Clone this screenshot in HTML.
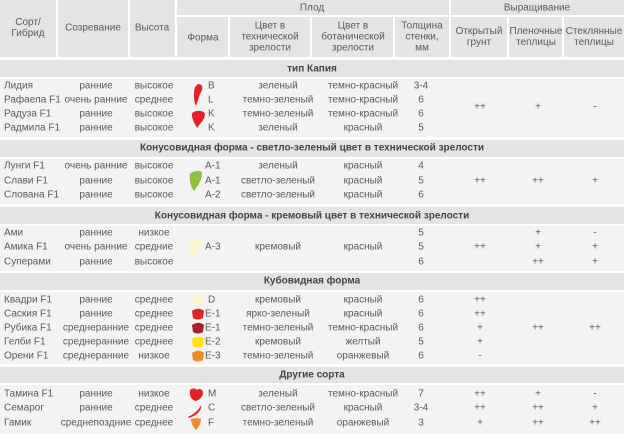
<!DOCTYPE html>
<html><head><meta charset="utf-8"><style>
body{margin:0;width:624px;height:434px;background:#fff;position:relative;overflow:hidden;font-family:"Liberation Sans",sans-serif;font-size:10px;color:#5a5a5a}
.b{position:absolute}
.c{position:absolute;transform:translate(-50%,-50%);white-space:nowrap;text-align:center;line-height:11px}
.l{position:absolute;transform:translateY(-50%);white-space:nowrap}
.h{background:#e4e4e4}
.r{background:#f3f3f3}
.bd{font-weight:bold;color:#444}
</style></head><body>
<div class="b h" style="left:0;top:0;width:56px;height:57px"></div>
<div class="b h" style="left:58px;top:0;width:70px;height:57px"></div>
<div class="b h" style="left:130px;top:0;width:45px;height:57px"></div>
<div class="b h" style="left:177px;top:0;width:272px;height:15px"></div>
<div class="b h" style="left:177px;top:17px;width:51px;height:40px"></div>
<div class="b h" style="left:230px;top:17px;width:80px;height:40px"></div>
<div class="b h" style="left:312px;top:17px;width:81px;height:40px"></div>
<div class="b h" style="left:395px;top:17px;width:54px;height:40px"></div>
<div class="b h" style="left:451px;top:0;width:173px;height:15px"></div>
<div class="b h" style="left:451px;top:17px;width:56px;height:40px"></div>
<div class="b h" style="left:509px;top:17px;width:53px;height:40px"></div>
<div class="b h" style="left:564px;top:17px;width:60px;height:40px"></div>
<div class="c" style="left:28px;top:28px">Сорт/<br>Гибрид</div>
<div class="c" style="left:93px;top:28px">Созревание</div>
<div class="c" style="left:152px;top:28px">Высота</div>
<div class="c" style="left:312px;top:8px">Плод</div>
<div class="c" style="left:537px;top:8px">Выращивание</div>
<div class="c" style="left:203px;top:38px">Форма</div>
<div class="c" style="left:270px;top:37px">Цвет в<br>технической<br>зрелости</div>
<div class="c" style="left:353px;top:37px">Цвет в<br>ботанической<br>зрелости</div>
<div class="c" style="left:422px;top:37px">Толщина<br>стенки,<br>мм</div>
<div class="c" style="left:479px;top:37px">Открытый<br>грунт</div>
<div class="c" style="left:536px;top:37px">Пленочные<br>теплицы</div>
<div class="c" style="left:594px;top:37px">Стеклянные<br>теплицы</div>

<div class="b h" style="left:0;top:60px;width:624px;height:17px"></div>
<div class="b r" style="left:0;top:79px;width:624px;height:58px"></div>
<div class="b h" style="left:0;top:140px;width:624px;height:17px"></div>
<div class="b r" style="left:0;top:159px;width:624px;height:45px"></div>
<div class="b h" style="left:0;top:207px;width:624px;height:17px"></div>
<div class="b r" style="left:0;top:226px;width:624px;height:45px"></div>
<div class="b h" style="left:0;top:273px;width:624px;height:17px"></div>
<div class="b r" style="left:0;top:292px;width:624px;height:72px"></div>
<div class="b h" style="left:0;top:367px;width:624px;height:16px"></div>
<div class="b r" style="left:0;top:385px;width:624px;height:49px"></div>

<div class="c bd" style="left:312px;top:69px">тип Капия</div>
<div class="c bd" style="left:312px;top:148px">Конусовидная форма - светло-зеленый цвет в технической зрелости</div>
<div class="c bd" style="left:312px;top:216px">Конусовидная форма - кремовый цвет в технической зрелости</div>
<div class="c bd" style="left:312px;top:281px">Кубовидная форма</div>
<div class="c bd" style="left:312px;top:375px">Другие сорта</div>

<div class="l" style="left:4px;top:86px">Лидия</div><div class="c" style="left:96px;top:86px">ранние</div><div class="c" style="left:154px;top:86px">высокое</div><div class="l" style="left:208px;top:86px">B</div><div class="c" style="left:278px;top:86px">зеленый</div><div class="c" style="left:363px;top:86px">темно-красный</div><div class="c" style="left:421px;top:86px">3-4</div>
<div class="l" style="left:4px;top:100px">Рафаела F1</div><div class="c" style="left:96px;top:100px">очень ранние</div><div class="c" style="left:154px;top:100px">среднее</div><div class="l" style="left:208px;top:100px">L</div><div class="c" style="left:278px;top:100px">темно-зеленый</div><div class="c" style="left:363px;top:100px">темно-красный</div><div class="c" style="left:421px;top:100px">6</div>
<div class="l" style="left:4px;top:114px">Радуза F1</div><div class="c" style="left:96px;top:114px">ранние</div><div class="c" style="left:154px;top:114px">высокое</div><div class="l" style="left:208px;top:114px">K</div><div class="c" style="left:278px;top:114px">темно-зеленый</div><div class="c" style="left:363px;top:114px">темно-красный</div><div class="c" style="left:421px;top:114px">6</div>
<div class="l" style="left:4px;top:128px">Радмила F1</div><div class="c" style="left:96px;top:128px">ранние</div><div class="c" style="left:154px;top:128px">высокое</div><div class="l" style="left:208px;top:128px">K</div><div class="c" style="left:278px;top:128px">зеленый</div><div class="c" style="left:363px;top:128px">красный</div><div class="c" style="left:421px;top:128px">5</div>
<div class="c" style="left:480px;top:107px">++</div><div class="c" style="left:538px;top:107px">+</div><div class="c" style="left:595px;top:107px">-</div>
<svg class="b" style="left:188px;top:82px" width="20" height="50"><path d="M10 2 C16 2 15 8 12 12 L8 24 C6 20 5 12 7 5 Z" fill="#e52128"/><path d="M4 31 C8 28 16 28 17 32 C17 38 12 41 9 46 C7 42 3 36 4 31 Z" fill="#e52128"/></svg>

<div class="l" style="left:4px;top:166px">Лунги F1</div><div class="c" style="left:96px;top:166px">очень ранние</div><div class="c" style="left:154px;top:166px">высокое</div><div class="l" style="left:205px;top:166px">A-1</div><div class="c" style="left:278px;top:166px">зеленый</div><div class="c" style="left:363px;top:166px">красный</div><div class="c" style="left:421px;top:166px">4</div>
<div class="l" style="left:4px;top:181px">Слави F1</div><div class="c" style="left:96px;top:181px">ранние</div><div class="c" style="left:154px;top:181px">высокое</div><div class="l" style="left:205px;top:181px">A-1</div><div class="c" style="left:278px;top:181px">светло-зеленый</div><div class="c" style="left:363px;top:181px">красный</div><div class="c" style="left:421px;top:181px">5</div>
<div class="l" style="left:4px;top:195px">Слована F1</div><div class="c" style="left:96px;top:195px">ранние</div><div class="c" style="left:154px;top:195px">высокое</div><div class="l" style="left:205px;top:195px">A-2</div><div class="c" style="left:278px;top:195px">светло-зеленый</div><div class="c" style="left:363px;top:195px">красный</div><div class="c" style="left:421px;top:195px">6</div>
<div class="c" style="left:480px;top:181px">++</div><div class="c" style="left:538px;top:181px">++</div><div class="c" style="left:595px;top:181px">+</div>
<svg class="b" style="left:188px;top:170px" width="16" height="24"><path d="M2 4 C5 0 14 0 14 3 C14 9 10 16 6 21 C2 16 1 9 2 4 Z" fill="#8dc043"/></svg>

<div class="l" style="left:4px;top:233px">Ами</div><div class="c" style="left:96px;top:233px">ранние</div><div class="c" style="left:154px;top:233px">низкое</div><div class="c" style="left:421px;top:233px">5</div>
<div class="l" style="left:4px;top:247px">Амика F1</div><div class="c" style="left:96px;top:247px">очень ранние</div><div class="c" style="left:154px;top:247px">средние</div><div class="l" style="left:205px;top:247px">A-3</div><div class="c" style="left:278px;top:247px">кремовый</div><div class="c" style="left:363px;top:247px">красный</div><div class="c" style="left:421px;top:247px">5</div>
<div class="l" style="left:4px;top:262px">Суперами</div><div class="c" style="left:96px;top:262px">ранние</div><div class="c" style="left:154px;top:262px">высокое</div><div class="c" style="left:421px;top:262px">6</div>
<div class="c" style="left:480px;top:247px">++</div><div class="c" style="left:538px;top:233px">+</div><div class="c" style="left:538px;top:247px">+</div><div class="c" style="left:538px;top:262px">++</div><div class="c" style="left:595px;top:233px">-</div><div class="c" style="left:595px;top:247px">+</div><div class="c" style="left:595px;top:262px">+</div>
<svg class="b" style="left:188px;top:238px" width="16" height="22"><path d="M2 3 C5 0 13 0 13 3 C13 9 10 14 6 19 C2 14 1 8 2 3 Z" fill="#fbf6c8"/></svg>

<div class="l" style="left:4px;top:300px">Квадри F1</div><div class="c" style="left:96px;top:300px">ранние</div><div class="c" style="left:154px;top:300px">среднее</div><div class="l" style="left:208px;top:300px">D</div><div class="c" style="left:278px;top:300px">кремовый</div><div class="c" style="left:363px;top:300px">красный</div><div class="c" style="left:421px;top:300px">6</div><div class="c" style="left:480px;top:300px">++</div>
<div class="l" style="left:4px;top:314px">Саския F1</div><div class="c" style="left:96px;top:314px">ранние</div><div class="c" style="left:154px;top:314px">среднее</div><div class="l" style="left:205px;top:314px">E-1</div><div class="c" style="left:278px;top:314px">ярко-зеленый</div><div class="c" style="left:363px;top:314px">красный</div><div class="c" style="left:421px;top:314px">6</div><div class="c" style="left:480px;top:314px">++</div>
<div class="l" style="left:4px;top:328px">Рубика F1</div><div class="c" style="left:96px;top:328px">среднеранние</div><div class="c" style="left:154px;top:328px">среднее</div><div class="l" style="left:205px;top:328px">E-1</div><div class="c" style="left:278px;top:328px">темно-зеленый</div><div class="c" style="left:363px;top:328px">темно-красный</div><div class="c" style="left:421px;top:328px">6</div><div class="c" style="left:480px;top:328px">+</div>
<div class="l" style="left:4px;top:342px">Гелби F1</div><div class="c" style="left:96px;top:342px">среднеранние</div><div class="c" style="left:154px;top:342px">среднее</div><div class="l" style="left:205px;top:342px">E-2</div><div class="c" style="left:278px;top:342px">кремовый</div><div class="c" style="left:363px;top:342px">желтый</div><div class="c" style="left:421px;top:342px">5</div><div class="c" style="left:480px;top:342px">+</div>
<div class="l" style="left:4px;top:356px">Орени F1</div><div class="c" style="left:96px;top:356px">среднеранние</div><div class="c" style="left:154px;top:356px">низкое</div><div class="l" style="left:205px;top:356px">E-3</div><div class="c" style="left:278px;top:356px">темно-зеленый</div><div class="c" style="left:363px;top:356px">оранжевый</div><div class="c" style="left:421px;top:356px">6</div><div class="c" style="left:480px;top:356px">-</div>
<div class="c" style="left:538px;top:328px">++</div><div class="c" style="left:595px;top:328px">++</div>
<svg class="b" style="left:190px;top:293px" width="16" height="72">
<path d="M3 3 C6 1 10 1 13 3 L12 11 C9 13 6 13 4 11 Z" fill="#fbf6c8"/>
<path d="M2 18 C6 15 11 15 14 18 L13 25 C10 27 5 27 3 25 Z" fill="#e52128"/>
<path d="M2 32 C6 29 11 29 14 32 L13 39 C10 41 5 41 3 39 Z" fill="#a5222a"/>
<path d="M2 46 C6 43 11 43 14 46 L13 53 C10 55 5 55 3 53 Z" fill="#ffe500"/>
<path d="M2 60 C6 57 11 57 14 60 L13 67 C10 69 5 69 3 67 Z" fill="#f2892a"/>
</svg>

<div class="l" style="left:4px;top:394px">Тамина F1</div><div class="c" style="left:96px;top:394px">ранние</div><div class="c" style="left:154px;top:394px">низкое</div><div class="l" style="left:208px;top:394px">M</div><div class="c" style="left:278px;top:394px">зеленый</div><div class="c" style="left:363px;top:394px">темно-красный</div><div class="c" style="left:421px;top:394px">7</div><div class="c" style="left:480px;top:394px">++</div><div class="c" style="left:538px;top:394px">+</div><div class="c" style="left:595px;top:394px">-</div>
<div class="l" style="left:4px;top:408px">Семарог</div><div class="c" style="left:96px;top:408px">ранние</div><div class="c" style="left:154px;top:408px">среднее</div><div class="l" style="left:208px;top:408px">C</div><div class="c" style="left:278px;top:408px">светло-зеленый</div><div class="c" style="left:363px;top:408px">красный</div><div class="c" style="left:421px;top:408px">3-4</div><div class="c" style="left:480px;top:408px">++</div><div class="c" style="left:538px;top:408px">++</div><div class="c" style="left:595px;top:408px">+</div>
<div class="l" style="left:4px;top:423px">Гамик</div><div class="c" style="left:96px;top:423px">среднепоздние</div><div class="c" style="left:154px;top:423px">среднее</div><div class="l" style="left:208px;top:423px">F</div><div class="c" style="left:278px;top:423px">темно-зеленый</div><div class="c" style="left:363px;top:423px">оранжевый</div><div class="c" style="left:421px;top:423px">3</div><div class="c" style="left:480px;top:423px">+</div><div class="c" style="left:538px;top:423px">++</div><div class="c" style="left:595px;top:423px">++</div>
<svg class="b" style="left:186px;top:386px" width="20" height="46">
<path d="M4 4 C7 1 10 3 11 4 C13 2 17 3 17 7 C17 11 13 14 10 15 C6 14 3 11 4 4 Z" fill="#e52128"/>
<path d="M2 31 C8 28 13 24 15 19 C16 24 12 29 3 32 Z" fill="#e52128"/>
<path d="M5 33 C8 32 12 32 15 33 C15 38 12 42 10 44 C8 42 5 38 5 33 Z" fill="#f2892a"/>
</svg>
</body></html>
